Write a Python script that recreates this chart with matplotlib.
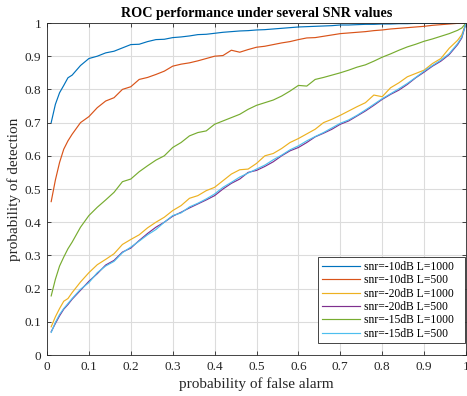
import numpy as np
import matplotlib
matplotlib.use("Agg")
import matplotlib.pyplot as plt

plt.rcParams['font.family'] = ['Liberation Serif', 'DejaVu Serif']

# false alarm probability (x axis)
pfa = [0.01, 0.02, 0.03, 0.04, 0.05, 0.06, 0.08, 0.10, 0.12, 0.14, 0.16, 0.18,
       0.20, 0.22, 0.24, 0.26, 0.28, 0.30, 0.32, 0.34, 0.36, 0.38, 0.40, 0.42,
       0.44, 0.46, 0.48, 0.50, 0.52, 0.54, 0.56, 0.58, 0.60, 0.62, 0.64, 0.66,
       0.68, 0.70, 0.72, 0.74, 0.76, 0.78, 0.80, 0.82, 0.84, 0.86, 0.88, 0.90,
       0.92, 0.94, 0.96, 0.98, 0.99, 1.00]

# detection probability for each case
pd_m10_1000 = [0.700, 0.755, 0.790, 0.812, 0.835, 0.843, 0.872, 0.893, 0.900, 0.910, 0.915, 0.925,
               0.935, 0.936, 0.944, 0.950, 0.951, 0.956, 0.958, 0.961, 0.965, 0.966, 0.969, 0.972,
               0.974, 0.976, 0.977, 0.979, 0.980, 0.982, 0.984, 0.986, 0.988, 0.989, 0.990, 0.991,
               0.992, 0.994, 0.994, 0.995, 0.996, 0.996, 0.997, 0.997, 0.998, 0.998, 0.999, 0.999,
               0.999, 1.000, 1.000, 1.000, 1.000, 1.000]
pd_m10_500 = [0.462, 0.527, 0.580, 0.620, 0.645, 0.665, 0.700, 0.718, 0.745, 0.765, 0.775, 0.800,
              0.808, 0.830, 0.836, 0.845, 0.855, 0.870, 0.876, 0.880, 0.886, 0.893, 0.900, 0.902,
              0.918, 0.912, 0.920, 0.927, 0.930, 0.935, 0.940, 0.944, 0.950, 0.955, 0.956, 0.960,
              0.964, 0.968, 0.970, 0.972, 0.974, 0.977, 0.979, 0.982, 0.984, 0.986, 0.988, 0.990,
              0.993, 0.995, 0.997, 0.999, 1.000, 1.000]
pd_m20_1000 = [0.085, 0.115, 0.140, 0.162, 0.170, 0.188, 0.220, 0.248, 0.272, 0.288, 0.305, 0.333,
               0.348, 0.362, 0.383, 0.400, 0.415, 0.435, 0.450, 0.472, 0.480, 0.495, 0.505, 0.525,
               0.545, 0.558, 0.560, 0.577, 0.600, 0.607, 0.622, 0.640, 0.652, 0.666, 0.680, 0.700,
               0.710, 0.722, 0.735, 0.748, 0.760, 0.783, 0.778, 0.805, 0.820, 0.838, 0.848, 0.858,
               0.878, 0.893, 0.924, 0.948, 0.965, 1.000]
pd_m20_500 = [0.070, 0.095, 0.118, 0.138, 0.152, 0.168, 0.195, 0.222, 0.245, 0.271, 0.285, 0.310,
              0.322, 0.345, 0.366, 0.385, 0.400, 0.418, 0.430, 0.443, 0.455, 0.467, 0.480, 0.500,
              0.517, 0.530, 0.550, 0.556, 0.568, 0.582, 0.600, 0.615, 0.625, 0.640, 0.657, 0.668,
              0.680, 0.695, 0.705, 0.720, 0.735, 0.752, 0.770, 0.785, 0.798, 0.815, 0.835, 0.852,
              0.870, 0.885, 0.905, 0.935, 0.955, 1.000]
pd_m15_1000 = [0.178, 0.228, 0.268, 0.295, 0.320, 0.340, 0.385, 0.420, 0.445, 0.467, 0.490, 0.522,
               0.530, 0.552, 0.570, 0.587, 0.600, 0.625, 0.640, 0.660, 0.670, 0.675, 0.695, 0.705,
               0.715, 0.725, 0.740, 0.752, 0.760, 0.768, 0.780, 0.795, 0.812, 0.810, 0.830, 0.836,
               0.843, 0.850, 0.858, 0.867, 0.874, 0.885, 0.897, 0.907, 0.918, 0.928, 0.936, 0.945,
               0.952, 0.960, 0.968, 0.978, 0.985, 1.000]
pd_m15_500 = [0.068, 0.098, 0.122, 0.140, 0.155, 0.170, 0.198, 0.218, 0.248, 0.268, 0.282, 0.308,
              0.325, 0.343, 0.362, 0.378, 0.400, 0.420, 0.428, 0.446, 0.457, 0.470, 0.485, 0.505,
              0.520, 0.536, 0.548, 0.560, 0.572, 0.588, 0.602, 0.618, 0.630, 0.645, 0.658, 0.670,
              0.684, 0.698, 0.708, 0.722, 0.738, 0.755, 0.772, 0.787, 0.802, 0.818, 0.836, 0.855,
              0.872, 0.888, 0.908, 0.938, 0.958, 1.000]

labels = ['snr=-10dB L=1000', 'snr=-10dB L=500', 'snr=-20dB L=1000',
          'snr=-20dB L=500', 'snr=-15dB L=1000', 'snr=-15dB L=500']
series = [pd_m10_1000, pd_m10_500, pd_m20_1000, pd_m20_500, pd_m15_1000, pd_m15_500]
colors = ['#0072BD', '#D95319', '#EDB120', '#7E2F8E', '#77AC30', '#4DBEEE']

fig = plt.figure(figsize=(4.67, 3.96), dpi=100)
ax = fig.add_axes([47 / 467, 41 / 396, 419 / 467, 332 / 396])

for y, lab, c in zip(series, labels, colors):
    ax.plot(pfa, y, color=c, lw=0.85, label=lab)

ax.set_xlim(0, 1)
ax.set_ylim(0, 1)
ax.set_xticks(np.arange(0, 1.01, 0.1))
ax.set_yticks(np.arange(0, 1.01, 0.1))
ax.set_xticklabels(['0', '0.1', '0.2', '0.3', '0.4', '0.5', '0.6', '0.7', '0.8', '0.9', '1'])
ax.set_yticklabels(['0', '0.1', '0.2', '0.3', '0.4', '0.5', '0.6', '0.7', '0.8', '0.9', '1'])
ax.tick_params(direction='in', top=True, right=True, length=3, width=0.6,
               labelsize=9.5, colors='#262626', pad=4)
ax.grid(True, color='#dcdcdc', lw=0.8)
ax.set_axisbelow(True)
for s in ax.spines.values():
    s.set_color('#262626')
    s.set_linewidth(0.6)

ax.set_xlabel('probability of false alarm', fontsize=11, color='#262626', labelpad=3)
ax.set_ylabel('probability of detection', fontsize=11, color='#262626', labelpad=3)
ax.set_title('ROC performance under several SNR values', fontsize=10.2,
             fontweight='bold', pad=4)

leg = ax.legend(loc='lower left', bbox_to_anchor=(0.647, 0.035, 0.351, 0.25),
                mode='expand', fontsize=8.4,
                handlelength=3.3, handletextpad=0.3, labelspacing=0.12,
                borderpad=0.3, borderaxespad=0, fancybox=False,
                edgecolor='#262626', framealpha=1)
leg.get_frame().set_linewidth(0.6)

fig.savefig('out.png', dpi=100)
